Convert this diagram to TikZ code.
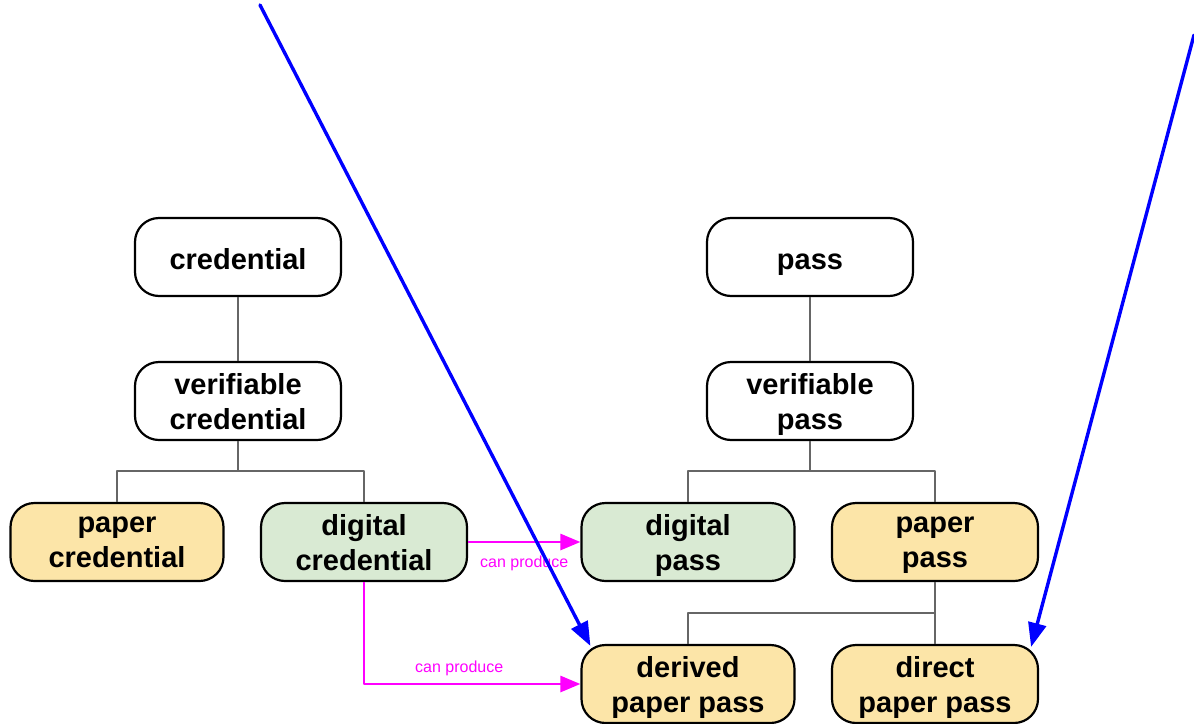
\documentclass[tikz,border=0pt]{standalone}
\usepackage{fontspec}
\setmainfont{Liberation Sans}
\usetikzlibrary{arrows.meta,calc}

\definecolor{paperfill}{HTML}{FCE5A8}
\definecolor{digitalfill}{HTML}{D9EAD3}
\definecolor{treegray}{HTML}{666666}
\definecolor{producepink}{HTML}{FF00FF}
\definecolor{pointerblue}{HTML}{0000FF}

\begin{document}
\begin{tikzpicture}
  [
    x=0.5pt, y=-0.5pt,
    line cap=round, line join=round,
    box/.style={draw=black, line width=1.1pt, rounded corners=12pt,
      minimum width=103pt, minimum height=39pt, inner sep=0pt,
      align=center, font=\fontsize{14.5}{17.5}\selectfont\bfseries,
      execute at begin node={\rule{0pt}{12pt}}, text depth=0pt},
    paperbox/.style={box, fill=paperfill},
    digitalbox/.style={box, fill=digitalfill},
    tree/.style={draw=treegray, line width=1pt, line cap=butt},
    produce/.style={draw=producepink, line width=1.4pt, line cap=butt,
      -{Triangle[length=10pt,width=8pt]}},
    producelabel/.style={text=producepink, font=\fontsize{8}{9}\selectfont},
    pointer/.style={draw=pointerblue, line width=1.7pt,
      -{Triangle[length=12pt,width=9pt]}},
  ]
\useasboundingbox (0,0) rectangle (1194,723);

% credential side
\node[box] (cred) at (238,257) {credential};
\node[box] (vcred) at (238,401) {verifiable\\credential};
\node[paperbox, minimum width=106.5pt] (pcred) at (117,542) {paper\\credential};
\node[digitalbox] (dcred) at (364,542) {digital\\credential};

% pass side
\node[box] (pass) at (810,257) {pass};
\node[box] (vpass) at (810,401) {verifiable\\pass};
\node[digitalbox, minimum width=106.5pt] (dpass) at (688,542) {digital\\pass};
\node[paperbox] (ppass) at (935,542) {paper\\pass};
\node[paperbox, minimum width=106.5pt] (derived) at (688,684) {derived\\paper pass};
\node[paperbox] (direct) at (935,684) {direct\\paper pass};

% tree lines
\coordinate (vcredfork) at (238,471);
\coordinate (vpassfork) at (810,471);
\coordinate (ppassfork) at (935,613);
\draw[tree] (cred) -- (vcred);
\draw[tree] (vcred) -- (vcredfork);
\draw[tree] (pcred.north) |- (vcredfork) -| (dcred.north);
\draw[tree] (pass) -- (vpass);
\draw[tree] (vpass) -- (vpassfork);
\draw[tree] (dpass.north) |- (vpassfork) -| (ppass.north);
\draw[tree] (ppass) -- (direct);
\draw[tree] (derived.north) |- (ppassfork);

% can produce
\draw[produce] (dcred) -- node[producelabel, below=3pt] {can produce} (dpass);
\draw[produce] (dcred.south) |- node[producelabel, pos=0.72, above=0pt] {can produce} (derived);

% pointers
\coordinate (ptrleft) at (260,5);
\coordinate (ptrright) at (1194,35);
\draw[pointer] (ptrleft) -- ($(derived.north west)+(10,2)$);
\draw[pointer] (ptrright) -- ($(direct.north east)+(-8,3)$);

\end{tikzpicture}
\end{document}
